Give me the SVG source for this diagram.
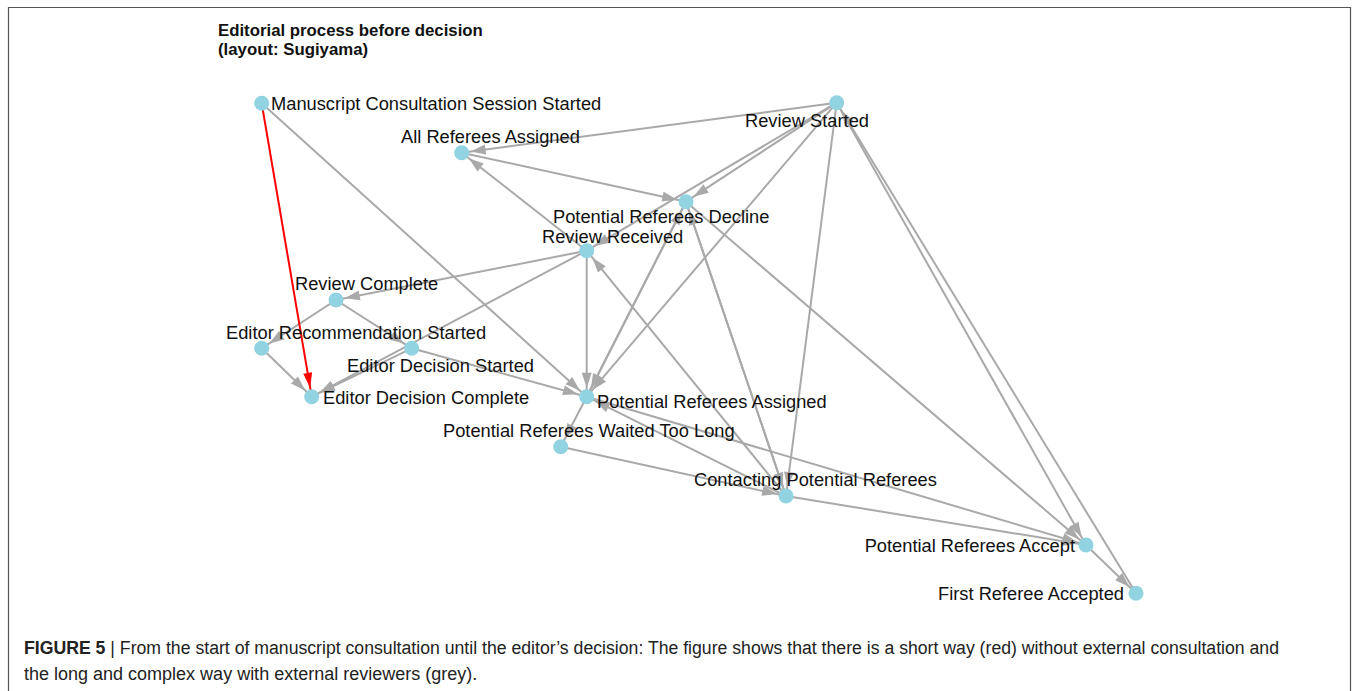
<svg xmlns="http://www.w3.org/2000/svg" width="1356" height="691" viewBox="0 0 1356 691">
<style>
.lbl{font-family:"Liberation Sans",Arial,sans-serif;font-size:18.3px;fill:#111}
.ttl{font-family:"Liberation Sans",Arial,sans-serif;font-size:16.8px;font-weight:bold;fill:#111}
.cap{font-family:"Liberation Sans",Arial,sans-serif;font-size:18px;fill:#222}
.e{stroke:#a9a9a9;stroke-width:2;fill:none;marker-end:url(#ag)}
.r{stroke:#ff0000;stroke-width:2;fill:none;marker-end:url(#ar)}
.n{fill:#92d3e1}
</style>
<defs>
<marker id="ag" viewBox="-17 -6 29 12" markerWidth="29" markerHeight="12" refX="9" refY="0" orient="auto" markerUnits="userSpaceOnUse"><path d="M-15,-5 L0,0 L-15,5 z" fill="#a9a9a9"/></marker>
<marker id="ar" viewBox="-17 -6 29 12" markerWidth="29" markerHeight="12" refX="9" refY="0" orient="auto" markerUnits="userSpaceOnUse"><path d="M-15,-4.5 L0,0 L-15,4.5 z" fill="#ff0000"/></marker>
</defs>
<rect x="0" y="0" width="1356" height="691" fill="#fff"/>
<path d="M8.5,700 V7.5 H1350.5 V700" fill="none" stroke="#555" stroke-width="1.2"/>
<text class="ttl" x="218" y="36">Editorial process before decision</text>
<text class="ttl" x="218" y="55">(layout: Sugiyama)</text>
<g id="connectors">
<line class="e" x1="261.7" y1="103.3" x2="586.7" y2="396.7"/>
<line class="e" x1="836.7" y1="102.7" x2="461.7" y2="152.7"/>
<line class="e" x1="836.7" y1="102.7" x2="686" y2="201.7"/>
<line class="e" x1="836.7" y1="102.7" x2="586.7" y2="250.7"/>
<line class="e" x1="836.7" y1="102.7" x2="586.7" y2="396.7"/>
<line class="e" x1="836.7" y1="102.7" x2="786" y2="496"/>
<line class="e" x1="836.7" y1="102.7" x2="1086" y2="545"/>
<line class="e" x1="1136" y1="593.3" x2="836.7" y2="102.7"/>
<line class="e" x1="461.7" y1="152.7" x2="686" y2="201.7"/>
<line class="e" x1="586.7" y1="250.7" x2="461.7" y2="152.7"/>
<line class="e" x1="586.7" y1="250.7" x2="336" y2="300"/>
<line class="e" x1="586.7" y1="250.7" x2="311.7" y2="396.7"/>
<line class="e" x1="586.7" y1="250.7" x2="586.7" y2="396.7"/>
<line class="e" x1="786" y1="496" x2="586.7" y2="250.7"/>
<line class="e" x1="586.7" y1="396.7" x2="686" y2="201.7"/>
<line class="e" x1="686" y1="201.7" x2="586.7" y2="396.7"/>
<line class="e" x1="786" y1="496" x2="686" y2="201.7"/>
<line class="e" x1="686" y1="201.7" x2="786" y2="496"/>
<line class="e" x1="686" y1="201.7" x2="1086" y2="545"/>
<line class="e" x1="336" y1="300" x2="261.7" y2="348.3"/>
<line class="e" x1="336" y1="300" x2="411.7" y2="348.3"/>
<line class="e" x1="261.7" y1="348.3" x2="311.7" y2="396.7"/>
<line class="e" x1="411.7" y1="348.3" x2="311.7" y2="396.7"/>
<line class="e" x1="411.7" y1="348.3" x2="586.7" y2="396.7"/>
<line class="e" x1="586.7" y1="396.7" x2="560.7" y2="446.7"/>
<line class="e" x1="560.7" y1="446.7" x2="786" y2="496"/>
<line class="e" x1="786" y1="496" x2="586.7" y2="396.7"/>
<line class="e" x1="586.7" y1="396.7" x2="1086" y2="545"/>
<line class="e" x1="786" y1="496" x2="1086" y2="545"/>
<line class="e" x1="1086" y1="545" x2="1136" y2="593.3"/>
<line class="r" x1="261.7" y1="103.3" x2="311.7" y2="396.7"/>
</g>
<g id="n-mcss"><circle class="n" cx="261.7" cy="103.3" r="7.5"/><text class="lbl" x="271" y="110">Manuscript Consultation Session Started</text></g>
<g id="n-rs"><circle class="n" cx="836.7" cy="102.7" r="7.5"/><text class="lbl" x="745" y="127">Review Started</text></g>
<g id="n-ara"><circle class="n" cx="461.7" cy="152.7" r="7.5"/><text class="lbl" x="401" y="143">All Referees Assigned</text></g>
<g id="n-prd"><circle class="n" cx="686" cy="201.7" r="7.5"/><text class="lbl" x="553" y="223">Potential Referees Decline</text></g>
<g id="n-rr"><circle class="n" cx="586.7" cy="250.7" r="7.5"/><text class="lbl" x="542" y="243">Review Received</text></g>
<g id="n-rc"><circle class="n" cx="336" cy="300" r="7.5"/><text class="lbl" x="295" y="290">Review Complete</text></g>
<g id="n-ers"><circle class="n" cx="261.7" cy="348.3" r="7.5"/><text class="lbl" x="226" y="339">Editor Recommendation Started</text></g>
<g id="n-eds"><circle class="n" cx="411.7" cy="348.3" r="7.5"/><text class="lbl" x="347" y="372">Editor Decision Started</text></g>
<g id="n-edc"><circle class="n" cx="311.7" cy="396.7" r="7.5"/><text class="lbl" x="323" y="404">Editor Decision Complete</text></g>
<g id="n-pra"><circle class="n" cx="586.7" cy="396.7" r="7.5"/><text class="lbl" x="597" y="408">Potential Referees Assigned</text></g>
<g id="n-prwtl"><circle class="n" cx="560.7" cy="446.7" r="7.5"/><text class="lbl" x="443" y="437">Potential Referees Waited Too Long</text></g>
<g id="n-cpr"><circle class="n" cx="786" cy="496" r="7.5"/><text class="lbl" x="694" y="486">Contacting Potential Referees</text></g>
<g id="n-pracc"><circle class="n" cx="1086" cy="545" r="7.5"/><text class="lbl" x="1075" y="552" text-anchor="end">Potential Referees Accept</text></g>
<g id="n-fra"><circle class="n" cx="1136" cy="593.3" r="7.5"/><text class="lbl" x="1124" y="600" text-anchor="end">First Referee Accepted</text></g>
<text class="cap" x="24" y="654" textLength="1255" lengthAdjust="spacingAndGlyphs"><tspan font-weight="bold">FIGURE 5 </tspan><tspan>| </tspan>From the start of manuscript consultation until the editor’s decision: The figure shows that there is a short way (red) without external consultation and</text>
<text class="cap" x="24" y="680">the long and complex way with external reviewers (grey).</text>
</svg>
